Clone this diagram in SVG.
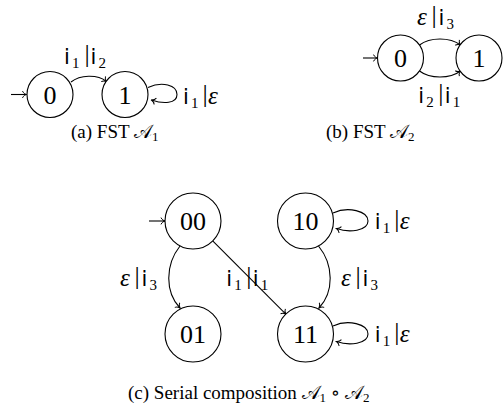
<svg xmlns="http://www.w3.org/2000/svg" width="503" height="409" viewBox="0 0 503 409">
<style>
.n circle{fill:#fff;stroke:#000;stroke-width:1.1}
.n text{font-family:"Liberation Serif","DejaVu Serif",serif;font-size:26px;text-anchor:middle;fill:#000}
.e{fill:none;stroke:#000;stroke-width:1.1;marker-end:url(#arr)}
.lbl{font-family:"Liberation Serif","DejaVu Serif",serif;font-size:26px;fill:#000}
.s{font-family:"DejaVu Sans","Liberation Sans",sans-serif;font-size:21px}
.sub{font-family:"Liberation Serif","DejaVu Serif",serif;font-size:15px}
.eps{font-family:"Liberation Serif","DejaVu Serif",serif;font-style:italic;font-size:25px}
.cap{font-family:"Liberation Serif","DejaVu Serif",serif;font-size:19px;fill:#000}
.cal{font-family:"DejaVu Serif","Noto Sans","Liberation Serif",serif}
.cs{font-size:13px}
</style>
<defs>
<marker id="arr" markerUnits="userSpaceOnUse" viewBox="-6 -5 7 10" refX="0" refY="0" markerWidth="7" markerHeight="10" orient="auto">
<path d="M-4,-3.4 C-3.2,-1.3 -1.2,-0.35 0,0 C-1.2,0.35 -3.2,1.3 -4,3.4" fill="none" stroke="#000" stroke-width="1"/>
</marker>
</defs>

<g id="connectors">
<path class="e" d="M11,94.5 L26.5,94.5"/>
<path class="e" d="M71,82 C80,75 97,74 106.5,81.5"/>
<path class="e" d="M148,87.5 C162,81 177,85 177,94.5 C177,104 163,104 151.5,100"/>
<path class="e" d="M363,58 L377.5,58"/>
<path class="e" d="M419.5,45 C430,37 450,37 460.5,45"/>
<path class="e" d="M419.5,71 C430,79 450,79 460.5,71"/>
<path class="e" d="M149,221 L165,221"/>
<path class="e" d="M180,246 C165,265 165,292 180,308"/>
<path class="e" d="M212.7,240.9 L285.8,314.1"/>
<path class="e" d="M318.5,246 C334,265 334,292 319,308"/>
<path class="e" d="M333,213 C348,206 368,211 368,221 C368,231 349,233 336.5,228.5"/>
<path class="e" d="M333,326 C348,319 368,324 368,334 C368,344 349,346 336.5,341.5"/>
</g>

<g id="a0" class="n"><circle cx="50" cy="94.5" r="23"/><text x="50" y="103.5">0</text></g>
<g id="a1" class="n"><circle cx="125" cy="94.5" r="23"/><text x="125" y="103.5">1</text></g>
<g id="b0" class="n"><circle cx="400.5" cy="58" r="23"/><text x="400.5" y="67">0</text></g>
<g id="b1" class="n"><circle cx="479" cy="58" r="23"/><text x="479" y="67">1</text></g>
<g id="c00" class="n"><circle cx="193" cy="221" r="28"/><text x="193" y="230">00</text></g>
<g id="c10" class="n"><circle cx="305.5" cy="221" r="28"/><text x="305.5" y="230">10</text></g>
<g id="c01" class="n"><circle cx="193" cy="334" r="28"/><text x="193" y="343">01</text></g>
<g id="c11" class="n"><circle cx="305.5" cy="334" r="28"/><text x="305.5" y="343">11</text></g>

<g id="labels">
<text class="lbl"><tspan class="s" x="64" y="64">i</tspan><tspan class="sub" x="72" y="67.5">1</tspan><tspan x="84.5" y="62">|</tspan><tspan class="s" x="90.5" y="64">i</tspan><tspan class="sub" x="98.5" y="67.5">2</tspan></text>
<text class="lbl"><tspan class="s" x="183" y="104">i</tspan><tspan class="sub" x="191" y="107.5">1</tspan><tspan x="202.5" y="102">|</tspan><tspan class="eps" x="208" y="104">ε</tspan></text>
<text class="lbl"><tspan class="eps" x="417" y="25">ε</tspan><tspan x="431.5" y="23">|</tspan><tspan class="s" x="438.5" y="25">i</tspan><tspan class="sub" x="446.5" y="28.5">3</tspan></text>
<text class="lbl"><tspan class="s" x="418.3" y="103">i</tspan><tspan class="sub" x="426.3" y="106.5">2</tspan><tspan x="438.3" y="101">|</tspan><tspan class="s" x="444.8" y="103">i</tspan><tspan class="sub" x="452.8" y="106.5">1</tspan></text>
<text class="lbl"><tspan class="eps" x="120" y="286">ε</tspan><tspan x="134.5" y="284">|</tspan><tspan class="s" x="141.5" y="286">i</tspan><tspan class="sub" x="149.5" y="289.5">3</tspan></text>
<text class="lbl"><tspan class="s" x="226.3" y="286">i</tspan><tspan class="sub" x="234.3" y="289.5">1</tspan><tspan x="246.3" y="284">|</tspan><tspan class="s" x="252.8" y="286">i</tspan><tspan class="sub" x="260.8" y="289.5">1</tspan></text>
<text class="lbl"><tspan class="eps" x="341" y="286">ε</tspan><tspan x="355.5" y="284">|</tspan><tspan class="s" x="362.5" y="286">i</tspan><tspan class="sub" x="370.5" y="289.5">3</tspan></text>
<text class="lbl"><tspan class="s" x="374.7" y="229">i</tspan><tspan class="sub" x="382.7" y="232.5">1</tspan><tspan x="394.2" y="227">|</tspan><tspan class="eps" x="399.7" y="229">ε</tspan></text>
<text class="lbl"><tspan class="s" x="374.7" y="342">i</tspan><tspan class="sub" x="382.7" y="345.5">1</tspan><tspan x="394.2" y="340">|</tspan><tspan class="eps" x="399.7" y="342">ε</tspan></text>
</g>

<g id="captions">
<text class="cap" x="71" y="138">(a) FST <tspan class="cal">𝒜</tspan><tspan class="cs" dy="3">1</tspan></text>
<text class="cap" x="326" y="138">(b) FST <tspan class="cal">𝒜</tspan><tspan class="cs" dy="3">2</tspan></text>
<text class="cap" x="128" y="399">(c) Serial composition <tspan class="cal">𝒜</tspan><tspan class="cs" dy="3">1</tspan><tspan dy="-3"> ∘ </tspan><tspan class="cal">𝒜</tspan><tspan class="cs" dy="3">2</tspan></text>
</g>
</svg>
